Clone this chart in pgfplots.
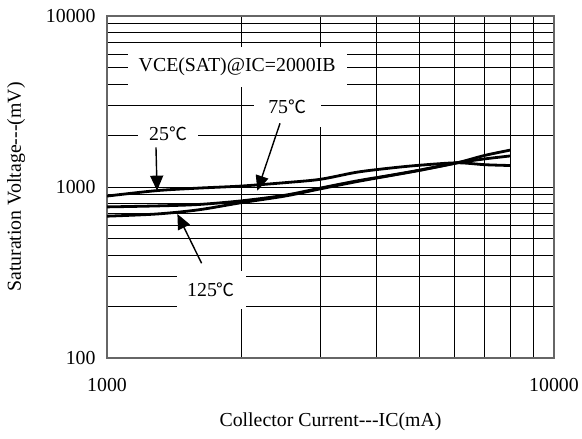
\documentclass[border=0pt]{standalone}
\usepackage{fontspec}
\setmainfont{Liberation Serif}
\newfontfamily\cjk{Noto Sans CJK SC}
\usepackage{pgfplots}
\pgfplotsset{compat=1.18}
\usetikzlibrary{arrows.meta}
\newcommand{\fs}{\fontsize{19.9}{23}\selectfont}
\newcommand{\dC}{{\cjk\fontsize{18}{20}\selectfont ℃}}
\begin{document}
\begin{tikzpicture}
\begin{axis}[
  xmode=log, ymode=log,
  scale only axis, width=447bp, height=342bp,
  xmin=1000, xmax=10000, ymin=100, ymax=10000,
  xtick={1000,10000}, xticklabels={1000,10000},
  ytick={100,1000,10000}, yticklabels={100,1000,10000},
  minor xtick={2000,3000,4000,5000,6000,7000,8000,9000},
  minor ytick={200,300,400,500,600,700,800,900,2000,3000,4000,5000,6000,7000,8000,9000},
  grid=both,
  major grid style={black, line width=0.8bp},
  minor grid style={black, line width=0.8bp},
  major tick length=0pt, minor tick length=0pt,
  axis line style={line width=1.4bp, black!60},
  tick label style={font=\fs},
  xticklabel style={yshift=-17bp},
  yticklabel style={xshift=-8bp},
  /pgf/number format/assume math mode=true,
  xlabel={Collector Current-{}-{}-IC(mA)},
  ylabel={Saturation Voltage-{}-{}-(mV)},
  label style={font=\fs},
  xlabel style={yshift=-14bp},
  ylabel style={yshift=14bp},
]
\addplot[black, line width=2.8bp, smooth] coordinates {
 (1000,885) (1290,952) (1600,985) (2000,1013) (2500,1060) (3000,1109) (3620,1220) (4300,1290) (5000,1340) (6070,1385) (7000,1350) (8000,1335)};
\addplot[black, line width=2.8bp, smooth] coordinates {
 (1000,765) (1290,775) (1600,790) (2000,830) (2500,895) (3000,985) (3620,1085) (4300,1170) (5000,1255) (6070,1385) (7000,1460) (8000,1520)};
\addplot[black, line width=2.8bp, smooth] coordinates {
 (1000,675) (1290,695) (1600,735) (2000,810) (2500,885) (3000,975) (3620,1075) (4300,1165) (5000,1250) (6070,1385) (7000,1530) (8000,1645)};
\node[fill=white, inner sep=0pt, minimum width=219bp, minimum height=40bp, font=\fs] at (axis cs:1955,5030) {VCE(SAT)@IC=2000IB};
\node[fill=white, inner sep=0pt, minimum width=67bp, minimum height=40bp, font=\fs] at (axis cs:2530,2950) {75\dC};
\node[fill=white, inner sep=0pt, minimum width=60bp, minimum height=30bp, font=\fs] at (axis cs:1370,2042) {25\dC};
\node[fill=white, inner sep=0pt, minimum width=69bp, minimum height=38bp, font=\fs] at (axis cs:1709,250) {125\dC};
\draw[line width=1.4bp, -{Triangle[length=15bp,width=13bp]}] (axis cs:1287,1707) -- (axis cs:1294,952);
\draw[line width=1.4bp, -{Triangle[length=15bp,width=13bp]}] (axis cs:2438,2358) -- (axis cs:2169,951);
\draw[line width=1.4bp, -{Triangle[length=15bp,width=13bp]}] (axis cs:1628,358) -- (axis cs:1437,695);
\end{axis}
\pgfresetboundingbox
\path[use as bounding box] ([shift={(-107bp,-81bp)}]current axis.south west) rectangle ([shift={(28bp,16bp)}]current axis.north east);
\end{tikzpicture}
\end{document}
